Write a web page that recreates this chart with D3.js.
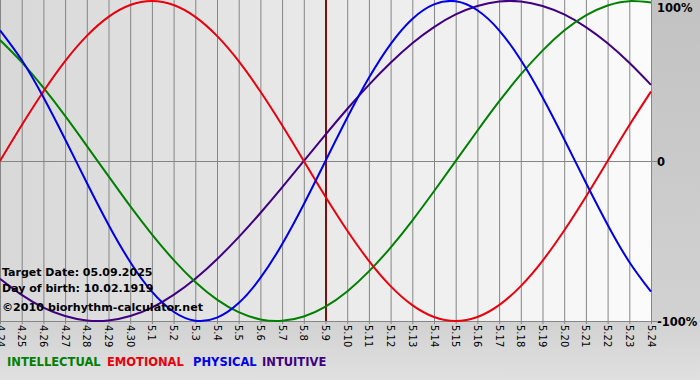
<!DOCTYPE html>
<html><head><meta charset="utf-8">
<script src="https://cdn.jsdelivr.net/npm/d3@7"></script>
<style>html,body{margin:0;padding:0;background:#d0d0d0;}svg{display:block;}</style>
</head><body>
<svg id="chart" width="700" height="380"></svg>
<script>
const days = ["4.24","4.25","4.26","4.27","4.28","4.29","4.30","5.1","5.2","5.3","5.4","5.5","5.6","5.7","5.8","5.9","5.10","5.11","5.12","5.13","5.14","5.15","5.16","5.17","5.18","5.19","5.20","5.21","5.22","5.23","5.24"];
const intellectual = [0.756,0.618,0.458,0.282,0.095,-0.095,-0.282,-0.458,-0.618,-0.756,-0.866,-0.945,-0.990,-0.999,-0.972,-0.910,-0.815,-0.690,-0.541,-0.372,-0.189,0,0.189,0.372,0.541,0.690,0.815,0.910,0.972,0.999,0.990];
const emotional = [0,0.223,0.434,0.624,0.782,0.901,0.975,1,0.975,0.901,0.782,0.624,0.434,0.223,0,-0.223,-0.434,-0.624,-0.782,-0.901,-0.975,-1,-0.975,-0.901,-0.782,-0.624,-0.434,-0.223,0,0.223,0.434];
const physical = [0.817,0.631,0.398,0.136,-0.136,-0.398,-0.631,-0.817,-0.942,-0.998,-0.979,-0.888,-0.731,-0.520,-0.270,0,0.270,0.520,0.731,0.888,0.979,0.998,0.942,0.817,0.631,0.398,0.136,-0.136,-0.398,-0.631,-0.817];
const intuitive = [-0.736,-0.837,-0.916,-0.969,-0.997,-0.997,-0.969,-0.916,-0.837,-0.736,-0.614,-0.476,-0.325,-0.165,0,0.165,0.325,0.476,0.614,0.736,0.837,0.916,0.969,0.997,0.997,0.969,0.916,0.837,0.736,0.614,0.476];
const yTicks = [1,0,-1];
const yTickLabels = ["100%","0","-100%"];
const targetDay = "5.9";
const infoLines = ["Target Date: 05.09.2025","Day of birth: 10.02.1919"];
const copyright = "©2010 biorhythm-calculator.net";
const legend = [
  {name:"INTELLECTUAL", color:"#008000", data:intellectual},
  {name:"EMOTIONAL", color:"#e8000c", data:emotional},
  {name:"PHYSICAL", color:"#0000e8", data:physical},
  {name:"INTUITIVE", color:"#400080", data:intuitive}
];

(function(){
const svg = d3.select("#chart");
const defs = svg.append("defs");
const bg = defs.append("linearGradient").attr("id","bgout").attr("x1",0).attr("y1",0).attr("x2",0).attr("y2",1);
bg.append("stop").attr("offset","0%").attr("stop-color","#c2c2c2");
bg.append("stop").attr("offset","85%").attr("stop-color","#d2d2d2");
bg.append("stop").attr("offset","100%").attr("stop-color","#e0e0e0");
const pg = defs.append("linearGradient").attr("id","bgplot").attr("x1",0).attr("y1",0).attr("x2",1).attr("y2",0);
pg.append("stop").attr("offset","0%").attr("stop-color","#d8d8d8");
pg.append("stop").attr("offset","100%").attr("stop-color","#fbfbfb");

svg.append("rect").attr("width",700).attr("height",380).attr("fill","url(#bgout)");

const pL = 0, pR = 651, pT = 1, pB = 321;
const x = d3.scalePoint().domain(days).range([pL,pR]);
const y = d3.scaleLinear().domain([-1,1]).range([pB,pT]);

svg.append("rect").attr("x",pL).attr("y",0).attr("width",pR-pL).attr("height",pB)
  .attr("fill","url(#bgplot)");

svg.append("g").selectAll("line").data(days).join("line")
  .attr("x1",d=>x(d)+0.5).attr("x2",d=>x(d)+0.5)
  .attr("y1",0).attr("y2",pB+3)
  .attr("stroke","#858585").attr("stroke-width",1);
svg.append("g").selectAll("line").data([0,-1]).join("line")
  .attr("x1",pL).attr("x2",pR+6)
  .attr("y1",d=>Math.round(y(d))+0.5).attr("y2",d=>Math.round(y(d))+0.5)
  .attr("stroke","#858585").attr("stroke-width",1);

svg.append("line").attr("x1",x(targetDay)+0.5).attr("x2",x(targetDay)+0.5)
  .attr("y1",0).attr("y2",pB).attr("stroke","#7a1010").attr("stroke-width",2);

const line = d3.line().x((d,i)=>x(days[i])).y(d=>y(d)).curve(d3.curveNatural);
const order = [legend[3],legend[0],legend[1],legend[2]];
svg.append("g").selectAll("path").data(order).join("path")
  .attr("d",d=>line(d.data)).attr("fill","none")
  .attr("stroke",d=>d.color).attr("stroke-width",2);

svg.append("g").selectAll("text").data(days).join("text")
  .attr("transform",d=>`translate(${x(d)-3.5},${pB+4}) rotate(90)`)
  .attr("font-family","Verdana, DejaVu Sans, sans-serif").attr("font-size",10)
  .attr("fill","#000").text(d=>d);

svg.append("g").selectAll("text").data(yTicks).join("text")
  .attr("x",657).attr("y",d=>d===1?y(d)+11:y(d)+5)
  .attr("font-family","DejaVu Sans, sans-serif").attr("font-weight","bold").attr("font-size",11.5)
  .attr("fill","#000").text((d,i)=>yTickLabels[i]);

svg.append("g").selectAll("text").data(infoLines).join("text")
  .attr("x",2).attr("y",(d,i)=>276+i*16)
  .attr("font-family","DejaVu Sans, sans-serif").attr("font-weight","bold").attr("font-size",11)
  .attr("fill","#000").text(d=>d);
svg.append("text").attr("x",2).attr("y",311)
  .attr("font-family","DejaVu Sans, sans-serif").attr("font-weight","bold").attr("font-size",11.2)
  .attr("textLength",201).attr("lengthAdjust","spacingAndGlyphs")
  .attr("fill","#000").text(copyright);

const legendX = [7,107,193,262];
svg.append("g").selectAll("text").data(legend).join("text")
  .attr("x",(d,i)=>legendX[i]).attr("y",366)
  .attr("font-family","DejaVu Sans, sans-serif").attr("font-weight","bold").attr("font-size",11.5)
  .attr("fill",d=>d.color).text(d=>d.name);
})();
</script>
</body></html>
